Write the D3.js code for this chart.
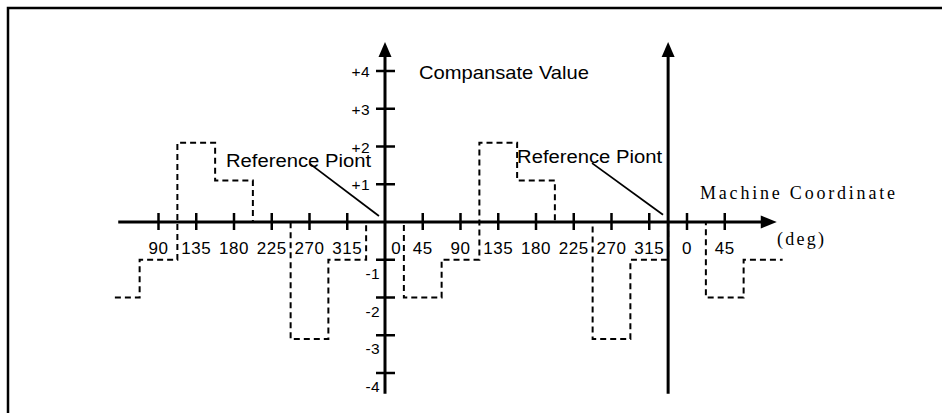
<!DOCTYPE html>
<html lang="en">
<head>
<meta charset="UTF-8">
<title>Compansate Value vs Machine Coordinate</title>
<script src="https://cdn.jsdelivr.net/npm/d3@7"></script>
<style>
  body { margin: 0; background: #fff; }
  svg { display: block; background: #fff; }
  .sans { font-family: "Liberation Sans", Arial, sans-serif; fill: #000; }
  .serif { font-family: "Liberation Serif", "Times New Roman", serif; fill: #000; }
</style>
</head>
<body>
<svg id="chart" width="942" height="413"></svg>
<script>
// step edges in degrees (continuous over three turns) and the value held after each edge
const stepEdges  = [-322, -292.5, -247.5, -202.5, -157.5, -112.5, -67.5, -22.5, 22.5, 67.5, 112.5, 157.5, 202.5, 247.5, 292.5, 337.5, 382.5, 427.5, 474];
const stepValues = [-2, -1, 2.1, 1.1, 0, -3.1, -1, 0, -2, -1, 2.1, 1.1, 0, -3.1, -1, 0, -2, -1];

// x ticks (deg) and what is written under them
const xTickDeg    = [-270, -225, -180, -135, -90, -45, 45, 90, 135, 180, 225, 270, 315, 360, 405];
const xTickLabels = ["90", "135", "180", "225", "270", "315", "45", "90", "135", "180", "225", "270", "315", "0", "45"];

const yTickVals   = [4, 3, 2, 1, -1, -2, -3, -4];
const yTickLabels = ["+4", "+3", "+2", "+1", "-1", "-2", "-3", "-4"];

// the two vertical axes: value axis at 0 deg, reference axis at 337.5 deg
const vAxesDeg = [0, 337.5];

const svg = d3.select("#chart");

const x = d3.scaleLinear().domain([0, 360]).range([385, 687]);
const y = d3.scaleLinear().domain([0, 4]).range([222, 71]);

// outer frame (top + left only)
svg.append("path")
  .attr("d", "M8,413V8H942")
  .attr("fill", "none")
  .attr("stroke", "#000")
  .attr("stroke-width", 2.5);

// compensation steps
const pts = stepEdges.map((e, i) => [e, stepValues[Math.min(i, stepValues.length - 1)]]);
svg.append("path")
  .datum(pts)
  .attr("d", d3.line().x(d => x(d[0])).y(d => y(d[1])).curve(d3.curveStepAfter))
  .attr("fill", "none")
  .attr("stroke", "#000")
  .attr("stroke-width", 2)
  .attr("stroke-dasharray", "6,4");

// horizontal axis with arrow
const xEnd = x(467);
svg.append("line")
  .attr("x1", x(-318)).attr("x2", xEnd - 10)
  .attr("y1", y(0)).attr("y2", y(0))
  .attr("stroke", "#000").attr("stroke-width", 3);
svg.append("path")
  .attr("d", `M${xEnd},${y(0)}L${xEnd - 16},${y(0) - 6.5}L${xEnd - 16},${y(0) + 6.5}Z`)
  .attr("fill", "#000");

// vertical axes with arrows
vAxesDeg.forEach(d => {
  const xx = x(d), top = y(4.77);
  svg.append("line")
    .attr("x1", xx).attr("x2", xx)
    .attr("y1", y(-4.55)).attr("y2", top + 10)
    .attr("stroke", "#000").attr("stroke-width", 3);
  svg.append("path")
    .attr("d", `M${xx},${top}L${xx - 6.5},${top + 15}L${xx + 6.5},${top + 15}Z`)
    .attr("fill", "#000");
});

// x ticks
svg.selectAll(".xtick")
  .data(xTickDeg)
  .enter().append("line")
  .attr("class", "xtick")
  .attr("x1", d => x(d)).attr("x2", d => x(d))
  .attr("y1", y(0) - 9).attr("y2", y(0) + 8)
  .attr("stroke", "#000").attr("stroke-width", 2.5);

svg.selectAll(".xlab")
  .data(xTickDeg)
  .enter().append("text")
  .attr("class", "xlab sans")
  .attr("x", d => x(d))
  .attr("y", y(0) + 32)
  .attr("text-anchor", "middle")
  .attr("font-size", "17px")
  .attr("letter-spacing", "0.6px")
  .text((d, i) => xTickLabels[i]);

// "0" next to the value axis
svg.append("text")
  .attr("class", "sans")
  .attr("x", x(0) + 11)
  .attr("y", y(0) + 32)
  .attr("text-anchor", "middle")
  .attr("font-size", "17px")
  .text("0");

// y ticks on the value axis
svg.selectAll(".ytick")
  .data(yTickVals)
  .enter().append("line")
  .attr("class", "ytick")
  .attr("x1", x(0) - 9).attr("x2", x(0) + 10)
  .attr("y1", d => y(d)).attr("y2", d => y(d))
  .attr("stroke", "#000").attr("stroke-width", 2.5);

svg.selectAll(".ylab")
  .data(yTickVals)
  .enter().append("text")
  .attr("class", "ylab sans")
  .attr("x", d => d > 0 ? x(0) - 15 : x(0) - 5)
  .attr("y", d => d > 0 ? y(d) + 6 : y(d) + 19)
  .attr("text-anchor", "end")
  .attr("font-size", "15.5px")
  .attr("letter-spacing", "0.4px")
  .text((d, i) => yTickLabels[i]);

// titles
svg.append("text")
  .attr("class", "sans")
  .attr("x", x(40.5)).attr("y", y(3.79))
  .attr("font-size", "18.5px")
  .attr("textLength", 170).attr("lengthAdjust", "spacingAndGlyphs")
  .text("Compansate Value");

svg.append("text")
  .attr("class", "serif")
  .attr("x", x(375.5)).attr("y", y(0.61))
  .attr("font-size", "18px")
  .attr("textLength", 195).attr("lengthAdjust", "spacing")
  .text("Machine Coordinate");

svg.append("text")
  .attr("class", "serif")
  .attr("x", x(467.3)).attr("y", y(-0.62))
  .attr("font-size", "18px")
  .attr("textLength", 47).attr("lengthAdjust", "spacing")
  .text("(deg)");

// reference point callouts: text start, line start, line end (deg, value)
const refNotes = [
  { tx: -189.5, ty: 1.46, x1: -89.4, y1: 1.54, x2: -7.2, y2: 0.16 },
  { tx: 157.4, ty: 1.56, x1: 246.8, y1: 1.56, x2: 331.4, y2: 0.19 }
];
refNotes.forEach(r => {
  svg.append("text")
    .attr("class", "sans")
    .attr("x", x(r.tx)).attr("y", y(r.ty))
    .attr("font-size", "18px")
    .attr("textLength", 145).attr("lengthAdjust", "spacingAndGlyphs")
    .text("Reference Piont");
  svg.append("line")
    .attr("x1", x(r.x1)).attr("y1", y(r.y1))
    .attr("x2", x(r.x2)).attr("y2", y(r.y2))
    .attr("stroke", "#000").attr("stroke-width", 1.8);
});
</script>
</body>
</html>
